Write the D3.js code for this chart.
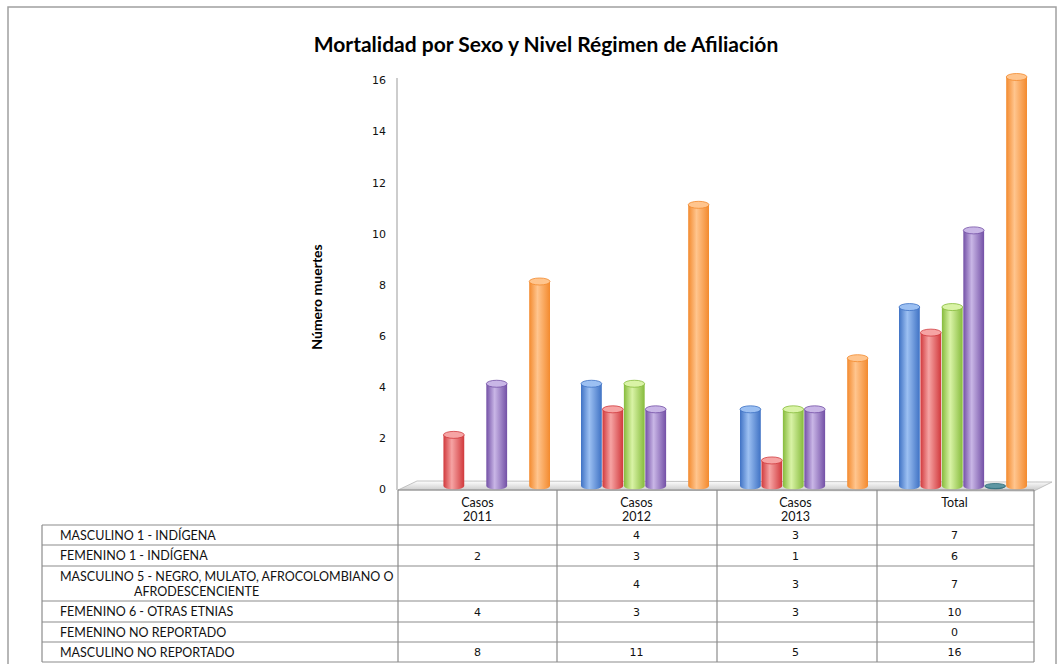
<!DOCTYPE html>
<html>
  <head>
    <meta charset="utf-8">
    <title>Mortalidad por Sexo</title>
    <script src="https://cdn.jsdelivr.net/npm/d3@7"></script>
    <style>
      body { margin: 0; background: #fff; }
      .lbl { font-family: Lato, "Open Sans", sans-serif; font-size: 12.5px; fill: #111; }
      .num { font-family: "DejaVu Sans", Verdana, sans-serif; font-size: 11px; fill: #111; }
      .grid line { stroke: #8c8c8c; stroke-width: 1.2; }
    </style>
  </head>
  <body>
    <svg id="chart" width="1061" height="664"></svg>
    <script>
      const categories = ["Casos 2011", "Casos 2012", "Casos 2013", "Total"];
      const seriesNames = [
        "MASCULINO 1 - INDÍGENA",
        "FEMENINO 1 - INDÍGENA",
        "MASCULINO 5 - NEGRO, MULATO, AFROCOLOMBIANO O AFRODESCENCIENTE",
        "FEMENINO 6 - OTRAS ETNIAS",
        "FEMENINO NO REPORTADO",
        "MASCULINO NO REPORTADO"
      ];
      const masculinoIndigena = [null, 4, 3, 7];
      const femeninoIndigena = [2, 3, 1, 6];
      const masculinoNegro = [null, 4, 3, 7];
      const femeninoOtras = [4, 3, 3, 10];
      const femeninoNoRep = [null, null, null, 0];
      const masculinoNoRep = [8, 11, 5, 16];
      const seriesValues = [masculinoIndigena, femeninoIndigena, masculinoNegro, femeninoOtras, femeninoNoRep, masculinoNoRep];
      const yTicks = [0, 2, 4, 6, 8, 10, 12, 14, 16];

      // base, highlight colours for the cylinders
      const colors = [
        ["#3f72c4", "#9cc0f2"],
        ["#d1393c", "#f6a4a4"],
        ["#86bb3c", "#d9f3a6"],
        ["#7350a6", "#c9b6e6"],
        ["#2d6b78", "#5e97a3"],
        ["#f38a2e", "#ffc58e"]
      ];

      const svg = d3.select("#chart");
      const defs = svg.append("defs");

      colors.forEach(([dark, light], i) => {
        const g = defs.append("linearGradient").attr("id", "cyl" + i)
          .attr("x1", 0).attr("x2", 1).attr("y1", 0).attr("y2", 0);
        g.append("stop").attr("offset", "0%").attr("stop-color", dark);
        g.append("stop").attr("offset", "40%").attr("stop-color", light);
        g.append("stop").attr("offset", "100%").attr("stop-color", dark);
      });
      const fg = defs.append("linearGradient").attr("id", "floor")
        .attr("x1", 0).attr("x2", 0).attr("y1", 0).attr("y2", 1);
      fg.append("stop").attr("offset", "0%").attr("stop-color", "#ffffff");
      fg.append("stop").attr("offset", "100%").attr("stop-color", "#c8c8c8");

      // outer frame
      svg.append("rect").attr("x", 8).attr("y", 7).attr("width", 1048).attr("height", 670)
        .attr("fill", "none").attr("stroke", "#a0a0a0").attr("stroke-width", 1.5);

      // title
      svg.append("text").attr("x", 546).attr("y", 52).attr("text-anchor", "middle")
        .style("font-family", "Lato, sans-serif").style("font-weight", "bold").style("font-size", "21px")
        .text("Mortalidad por Sexo y Nivel Régimen de Afiliación");

      // scales
      const x = d3.scaleBand().domain(categories).range([398, 1034]);
      const xs = d3.scaleBand().domain(d3.range(seriesNames.length)).range([24, 152]).paddingInner(0.03);
      const y = d3.scaleLinear().domain([0, 16]).range([489, 80]);

      // y axis
      const yAxis = svg.append("g").attr("transform", "translate(397,0)")
        .call(d3.axisLeft(y).tickValues(yTicks).tickSize(0).tickPadding(11));
      yAxis.select(".domain").attr("stroke", "#bdbdbd").attr("stroke-width", 1.5).attr("d", "M0,78V490");
      yAxis.selectAll("text").attr("class", "num").attr("dy", "0.35em");

      svg.append("text").attr("transform", "translate(322,297) rotate(-90)").attr("text-anchor", "middle")
        .style("font-family", "Lato, sans-serif").style("font-weight", "bold").style("font-size", "14px")
        .text("Número muertes");

      // floor
      svg.append("path")
        .attr("d", "M398,490 L417,481 L1052,482 L1034,491 Z")
        .attr("fill", "url(#floor)").attr("stroke", "#b5b5b5").attr("stroke-width", 0.8);

      // cylinders
      const shift = -3;
      const ry = 3.5;
      const groups = svg.append("g").selectAll("g").data(categories).join("g")
        .attr("transform", d => `translate(${x(d)},0)`);
      seriesValues.forEach((vals, si) => {
        groups.each(function (cat, ci) {
          const v = vals[ci];
          if (v === null) return;
          const w = xs.bandwidth();
          const x0 = xs(si), rx = w / 2, cx = x0 + rx;
          const top = y(v) + shift, base = y(0) + shift;
          const g = d3.select(this).append("g");
          g.append("path")
            .attr("d", `M${x0},${top} L${x0},${base} A${rx},${ry} 0 0 0 ${x0 + w},${base} L${x0 + w},${top} Z`)
            .attr("fill", `url(#cyl${si})`);
          g.append("ellipse").attr("cx", cx).attr("cy", top).attr("rx", rx).attr("ry", v === 0 ? 2.5 : ry)
            .attr("fill", colors[si][1]).attr("stroke", colors[si][0]).attr("stroke-width", 0.8);
        });
      });

      // data table
      const rowTops = [525, 545, 566, 601, 622, 642, 662];
      const colX = [398, 557, 717, 877, 1034];
      const grid = svg.append("g").attr("class", "grid");
      grid.append("line").attr("x1", 398).attr("x2", 1034).attr("y1", 490).attr("y2", 490);
      rowTops.forEach(ry0 => {
        grid.append("line").attr("x1", 42).attr("x2", 1034).attr("y1", ry0).attr("y2", ry0);
      });
      grid.append("line").attr("x1", 42).attr("x2", 42).attr("y1", 525).attr("y2", 662);
      colX.forEach(cx => {
        grid.append("line").attr("x1", cx).attr("x2", cx).attr("y1", 490).attr("y2", 662);
      });

      // header
      categories.forEach(c => {
        const parts = c.split(" ");
        const cx = x(c) + x.bandwidth() / 2;
        const t = svg.append("text").attr("class", "lbl").attr("text-anchor", "middle").attr("x", cx).attr("y", 507);
        parts.forEach((p, i) => t.append("tspan").attr("x", cx).attr("dy", i ? 14 : 0).text(p));
      });

      // row labels and values
      seriesNames.forEach((name, si) => {
        const top = rowTops[si], bot = rowTops[si + 1], mid = (top + bot) / 2;
        if (si === 2) {
          svg.append("text").attr("class", "lbl").attr("x", 60).attr("y", mid - 3)
            .text("MASCULINO 5 - NEGRO, MULATO, AFROCOLOMBIANO O");
          svg.append("text").attr("class", "lbl").attr("x", 134).attr("y", mid + 12)
            .text("AFRODESCENCIENTE");
        } else {
          svg.append("text").attr("class", "lbl").attr("x", 60).attr("y", mid + 4.5).text(name);
        }
        seriesValues[si].forEach((v, ci) => {
          if (v === null) return;
          svg.append("text").attr("class", "num").attr("text-anchor", "middle")
            .attr("x", x(categories[ci]) + x.bandwidth() / 2).attr("y", mid + 4).text(v);
        });
      });
    </script>
  </body>
</html>
